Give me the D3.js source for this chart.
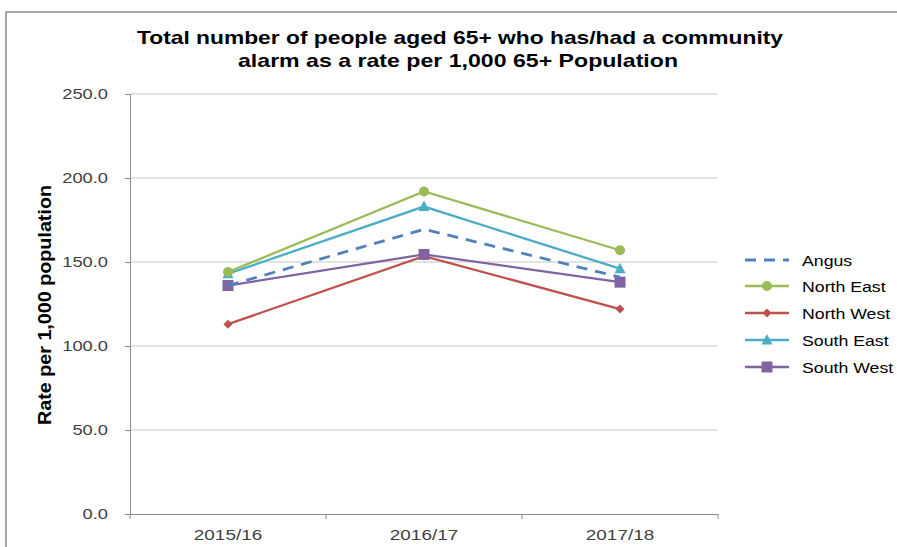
<!DOCTYPE html>
<html><head><meta charset="utf-8">
<script src="https://cdn.jsdelivr.net/npm/d3@7"></script>
<style>body{margin:0;background:#fff;}svg{display:block;font-family:"Liberation Sans",Arial,sans-serif;}</style>
</head><body>
<svg id="c" width="897" height="547"></svg>
<script>
const categories = ["2015/16", "2016/17", "2017/18"];
const seriesNames = ["Angus", "North East", "North West", "South East", "South West"];
const angus = [136, 169.5, 141];
const northEast = [144, 192, 157];
const northWest = [113, 153.5, 122];
const southEast = [143, 183, 146];
const southWest = [136, 154.5, 138];
const yTicks = [0, 50, 100, 150, 200, 250];
const colors = ["#4F81BD", "#9BBB59", "#C0504D", "#4BACC6", "#8064A2"];
const markers = ["none", "circle", "diamond", "triangle", "square"];

const STRETCH = 1.18;
function stretch(sel, factor) {
  sel.each(function () {
    const w = this.getComputedTextLength();
    d3.select(this).attr("textLength", w * factor).attr("lengthAdjust", "spacingAndGlyphs");
  });
}

const svg = d3.select("#c");
svg.append("rect").attr("x", 6).attr("y", 12).attr("width", 1000).attr("height", 1000)
  .attr("fill", "#fff").attr("stroke", "#8c8c8c").attr("stroke-width", 1.5);

const m = {left: 130, right: 718, top: 94, bottom: 514};
const x = d3.scaleBand().domain(categories).range([m.left, m.right]);
const y = d3.scaleLinear().domain([0, 250]).range([m.bottom, m.top]);

svg.append("g").selectAll("line").data(yTicks.filter(d => d > 0)).join("line")
  .attr("x1", m.left).attr("x2", m.right).attr("y1", d => y(d)).attr("y2", d => y(d))
  .attr("stroke", "#d9d9d9").attr("stroke-width", 1.3);

const ya = svg.append("g").attr("transform", `translate(${m.left},0)`)
  .call(d3.axisLeft(y).tickValues(yTicks).tickFormat(d3.format(".1f")).tickSize(5).tickPadding(17));
ya.select(".domain").attr("stroke", "#8c8c8c");
ya.selectAll(".tick line").attr("stroke", "#8c8c8c");
ya.selectAll("text").attr("font-size", 15.5).attr("fill", "#404040").call(stretch, STRETCH);

const xa = svg.append("g").attr("transform", `translate(0,${m.bottom})`)
  .call(d3.axisBottom(x).tickSize(0).tickPadding(14));
xa.select(".domain").attr("stroke", "#8c8c8c");
xa.selectAll("text").attr("font-size", 15.5).attr("fill", "#404040").attr("dy", "0.75em").call(stretch, 1.22);
const bounds = categories.map(c => x(c)).concat([x(categories[categories.length - 1]) + x.bandwidth()]);
svg.append("g").selectAll("line").data(bounds).join("line")
  .attr("x1", d => d).attr("x2", d => d).attr("y1", m.bottom).attr("y2", m.bottom + 5)
  .attr("stroke", "#8c8c8c");

const t1 = svg.append("text").attr("text-anchor", "middle").attr("font-weight", "bold")
  .attr("font-size", 18.5).attr("fill", "#000").attr("x", 460).attr("y", 44)
  .text("Total number of people aged 65+ who has/had a community")
  .attr("textLength", 646).attr("lengthAdjust", "spacingAndGlyphs");
const t2 = svg.append("text").attr("text-anchor", "middle").attr("font-weight", "bold")
  .attr("font-size", 18.5).attr("fill", "#000").attr("x", 458).attr("y", 67)
  .text("alarm as a rate per 1,000 65+ Population")
  .attr("textLength", 440).attr("lengthAdjust", "spacingAndGlyphs");

svg.append("text").attr("transform", "translate(51,305) rotate(-90)").attr("text-anchor", "middle")
  .attr("font-weight", "bold").attr("font-size", 18).attr("fill", "#000")
  .text("Rate per 1,000 population")
  .attr("textLength", 240).attr("lengthAdjust", "spacingAndGlyphs");

const data = [angus, northEast, northWest, southEast, southWest];
const cx = c => x(c) + x.bandwidth() / 2;
const line = d3.line().x((d, i) => cx(categories[i])).y(d => y(d));

function drawMarker(g, type, px, py, color) {
  if (type === "circle") g.append("circle").attr("cx", px).attr("cy", py).attr("r", 5).attr("fill", color);
  else if (type === "square") g.append("rect").attr("x", px - 5.5).attr("y", py - 5.5).attr("width", 11).attr("height", 11).attr("fill", color);
  else if (type === "triangle") g.append("path").attr("d", `M${px},${py - 6}L${px + 5.5},${py + 4.5}L${px - 5.5},${py + 4.5}Z`).attr("fill", color);
  else if (type === "diamond") g.append("path").attr("d", `M${px},${py - 4.5}L${px + 4.5},${py}L${px},${py + 4.5}L${px - 4.5},${py}Z`).attr("fill", color);
}

const order = [2, 4, 0, 3, 1];
order.forEach(k => {
  const g = svg.append("g");
  g.append("path").datum(data[k]).attr("d", line).attr("fill", "none")
    .attr("stroke", colors[k]).attr("stroke-width", k === 0 ? 2.8 : 2.3)
    .attr("stroke-dasharray", k === 0 ? "11,8" : null);
  data[k].forEach((v, i) => drawMarker(g, markers[k], cx(categories[i]), y(v), colors[k]));
});

const lg = svg.append("g");
const legendY = [260, 286, 313, 340, 367];
seriesNames.forEach((n, k) => {
  const ly = legendY[k];
  lg.append("line").attr("x1", 745).attr("x2", 789).attr("y1", ly).attr("y2", ly)
    .attr("stroke", colors[k]).attr("stroke-width", k === 0 ? 2.8 : 2.3)
    .attr("stroke-dasharray", k === 0 ? "11,8" : null);
  drawMarker(lg, markers[k], 767, ly, colors[k]);
  lg.append("text").attr("x", 802).attr("y", ly + 5.5).attr("font-size", 15).attr("fill", "#000").text(n)
    .call(stretch, STRETCH);
});
</script>
</body></html>
